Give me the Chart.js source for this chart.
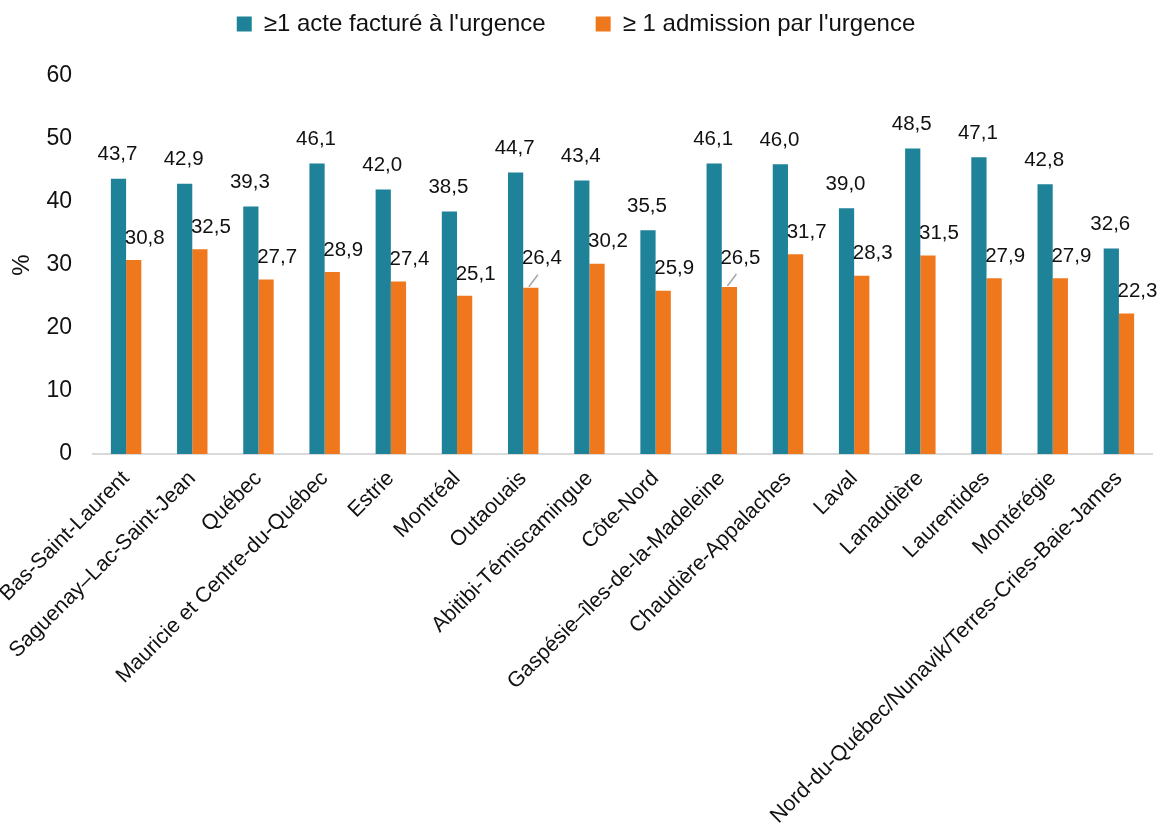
<!DOCTYPE html>
<html lang="fr">
<head>
    <meta charset="UTF-8">
    <title>Urgence par région</title>
    <script src="https://cdn.jsdelivr.net/npm/chart.js"></script>
    <style>
        body {
            margin: 0;
            background: #fff;
        }
        #wrap {
            width: 1164px;
            height: 829px;
        }
    </style>
</head>
<body>
    <div id="wrap"><canvas id="urgChart"></canvas></div>

    <script>
        const regions = [
            'Bas-Saint-Laurent', 'Saguenay–Lac-Saint-Jean', 'Québec', 'Mauricie et Centre-du-Québec',
            'Estrie', 'Montréal', 'Outaouais', 'Abitibi-Témiscamingue', 'Côte-Nord',
            'Gaspésie–îles-de-la-Madeleine', 'Chaudière-Appalaches', 'Laval', 'Lanaudière',
            'Laurentides', 'Montérégie', 'Nord-du-Québec/Nunavik/Terres-Cries-Baie-James'
        ];
        const acteFacture = [43.7, 42.9, 39.3, 46.1, 42.0, 38.5, 44.7, 43.4, 35.5, 46.1, 46.0, 39.0, 48.5, 47.1, 42.8, 32.6];
        const admission = [30.8, 32.5, 27.7, 28.9, 27.4, 25.1, 26.4, 30.2, 25.9, 26.5, 31.7, 28.3, 31.5, 27.9, 27.9, 22.3];
        const seriesNames = ['≥1 acte facturé à l\'urgence', '≥ 1 admission par l\'urgence'];
        const yTicks = [0, 10, 20, 30, 40, 50, 60];

        const FONT = '"Liberation Sans", Arial, Helvetica, sans-serif';

        // étiquettes de valeurs (pas de plugin datalabels disponible)
        const valueLabels = {
            id: 'valueLabels',
            afterDatasetsDraw(chart) {
                const ctx = chart.ctx;
                ctx.save();
                ctx.font = '20.5px ' + FONT;
                ctx.fillStyle = '#111';
                ctx.textAlign = 'center';
                ctx.textBaseline = 'middle';
                chart.data.datasets.forEach((ds, di) => {
                    const meta = chart.getDatasetMeta(di);
                    meta.data.forEach((bar, i) => {
                        const txt = ds.data[i].toFixed(1).replace('.', ',');
                        if (di === 0) {
                            ctx.fillText(txt, bar.x - 1, bar.y - 24);
                        } else {
                            const lifted = (i === 6 || i === 9);
                            const dy = lifted ? 29 : 22;
                            if (lifted) {
                                ctx.strokeStyle = '#a6a6a6';
                                ctx.lineWidth = 1.5;
                                ctx.beginPath();
                                ctx.moveTo(bar.x - 2, bar.y - 1);
                                ctx.lineTo(bar.x + 7, bar.y - 13);
                                ctx.stroke();
                            }
                            ctx.fillText(txt, bar.x + 11, bar.y - dy);
                        }
                    });
                });
                ctx.restore();
            }
        };

        // remonte la légende au ras du haut, l'écart horizontal reste large
        const legendUp = {
            id: 'legendUp',
            afterLayout(chart) {
                chart.legend.top -= 30;
                chart.legend.bottom -= 30;
            }
        };

        new Chart(document.getElementById('urgChart'), {
            type: 'bar',
            data: {
                labels: regions,
                datasets: [{
                    label: seriesNames[0],
                    data: acteFacture,
                    backgroundColor: '#1e8299',
                    categoryPercentage: 0.46,
                    barPercentage: 1.0
                }, {
                    label: seriesNames[1],
                    data: admission,
                    backgroundColor: '#f0781c',
                    categoryPercentage: 0.46,
                    barPercentage: 1.0
                }]
            },
            options: {
                responsive: true,
                maintainAspectRatio: false,
                animation: false,
                layout: { padding: { top: -8, right: 12, left: 0, bottom: 0 } },
                plugins: {
                    legend: {
                        display: true,
                        position: 'top',
                        labels: {
                            font: { family: FONT, size: 24 },
                            color: '#111',
                            boxWidth: 15,
                            boxHeight: 15,
                            padding: 50
                        }
                    },
                    tooltip: { enabled: false }
                },
                scales: {
                    x: {
                        grid: { display: false, drawTicks: false },
                        border: { color: '#d9d9d9', width: 2 },
                        afterFit: axis => {
                            axis.paddingLeft = 0;
                            axis.paddingRight = 0;
                            axis.height = 375;
                        },
                        ticks: {
                            font: { family: FONT, size: 21.5 },
                            color: '#111',
                            minRotation: 45,
                            maxRotation: 45,
                            autoSkip: false,
                            padding: 12
                        }
                    },
                    y: {
                        min: 0,
                        max: 60,
                        afterBuildTicks: axis => {
                            axis.ticks = yTicks.map(v => ({ value: v }));
                        },
                        afterFit: axis => {
                            axis.width = 93;
                        },
                        grid: { display: false, drawTicks: false },
                        border: { display: false },
                        title: {
                            display: true,
                            text: '%',
                            font: { family: FONT, size: 24 },
                            color: '#111',
                            padding: { top: 8, bottom: 0 }
                        },
                        ticks: {
                            font: { family: FONT, size: 23 },
                            color: '#111',
                            padding: 21
                        }
                    }
                }
            },
            plugins: [valueLabels, legendUp]
        });
    </script>
</body>
</html>
